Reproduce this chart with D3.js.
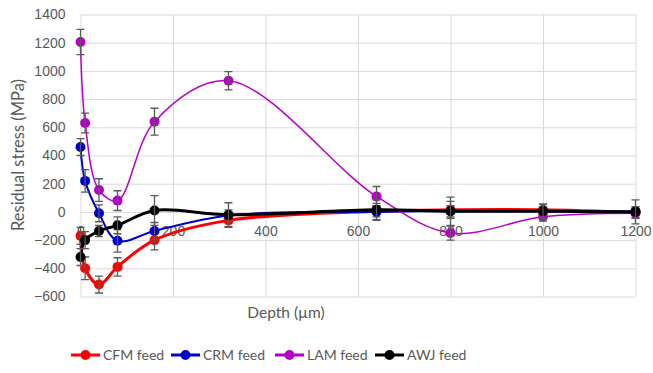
<!DOCTYPE html>
<html lang="en">
<head>
<meta charset="UTF-8">
<title>Residual stress vs depth</title>
<script src="https://d3js.org/d3.v7.min.js"></script>
<style>
    body { margin: 0; background: #fff; }
    svg { font-family: Lato, "Open Sans", sans-serif; }
    .grid line { stroke: #d9d9d9; stroke-width: 1px; }
    .tick text { fill: #595959; font-size: 14px; }
    .err { stroke: #595959; stroke-width: 1.3px; fill: none; }
    path.series { fill: none; }
</style>
</head>
<body>
<svg width="653" height="373"></svg>
<script>
    // data
    let depth = [0, 10, 40, 80, 160, 320, 640, 800, 1000, 1200];
    let cfm = [-170, -400, -515, -390, -200, -60, 5, 15, 15, -5];
    let crm = [460, 220, -10, -205, -135, -25, 0, 5, 5, 5];
    let lam = [1205, 630, 155, 80, 640, 930, 110, -150, -35, -10];
    let awj = [-320, -200, -135, -95, 10, -20, 15, 5, 5, 0];
    let cfmErr = [60, 80, 60, 65, 70, 50, 40, 60, 40, 40];
    let crmErr = [60, 80, 60, 80, 60, 40, 60, 40, 30, 30];
    let lamErr = [90, 70, 80, 70, 95, 65, 70, 50, 30, 30];
    let awjErr = [60, 60, 40, 60, 105, 85, 70, 100, 50, 85];
    let xTicks = [0, 200, 400, 600, 800, 1000, 1200];
    let yTicks = [-600, -400, -200, 0, 200, 400, 600, 800, 1000, 1200, 1400];

    let seriesList = [
        {name: 'CFM feed', values: cfm, err: cfmErr, color: '#ff0000', width: 3},
        {name: 'CRM feed', values: crm, err: crmErr, color: '#0000cc', width: 2},
        {name: 'LAM feed', values: lam, err: lamErr, color: '#b400c8', width: 1.5},
        {name: 'AWJ feed', values: awj, err: awjErr, color: '#000000', width: 3}
    ];

    let svg = d3.select('svg');
    let xScale = d3.scaleLinear().domain([0, 1200]).range([80.5, 635.5]);
    let yScale = d3.scaleLinear().domain([-600, 1400]).range([296.5, 14.5]);
    let fmt = d3.format('d');

    // gridlines
    svg.append('g').attr('class', 'grid')
        .attr('transform', 'translate(0,296.5)')
        .call(d3.axisBottom(xScale).tickValues(xTicks).tickSize(-282).tickFormat(''))
        .call(g => g.select('.domain').remove());
    svg.append('g').attr('class', 'grid')
        .attr('transform', 'translate(80.5,0)')
        .call(d3.axisLeft(yScale).tickValues(yTicks).tickSize(-555).tickFormat(''))
        .call(g => g.select('.domain').remove());

    // y tick labels
    svg.append('g')
        .attr('transform', 'translate(80.5,0)')
        .call(d3.axisLeft(yScale).tickValues(yTicks).tickFormat(fmt).tickSize(0).tickPadding(15))
        .call(g => g.select('.domain').remove());

    // x tick labels sit under the zero line
    svg.append('g')
        .attr('transform', 'translate(0,' + yScale(0) + ')')
        .call(d3.axisBottom(xScale).tickValues(xTicks).tickFormat(fmt).tickSize(0).tickPadding(14))
        .call(g => g.select('.domain').remove());

    let line = d3.line()
        .x((d, i) => xScale(depth[i]))
        .y(d => yScale(d))
        .curve(d3.curveCatmullRom.alpha(0.5));

    seriesList.forEach(function (s) {
        let g = svg.append('g');
        g.append('path').attr('class', 'series')
            .attr('d', line(s.values))
            .attr('stroke', s.color)
            .attr('stroke-width', s.width);
        g.selectAll('circle').data(s.values).join('circle')
            .attr('cx', (d, i) => xScale(depth[i]))
            .attr('cy', d => yScale(d))
            .attr('r', 5)
            .attr('fill', s.color);
        let eb = g.selectAll('g.eb').data(s.values).join('g').attr('class', 'eb');
        eb.append('path').attr('class', 'err')
            .attr('d', function (d, i) {
                let x = xScale(depth[i]);
                let y1 = yScale(d + s.err[i]), y2 = yScale(d - s.err[i]);
                return 'M' + x + ',' + y1 + 'V' + y2 +
                    'M' + (x - 4) + ',' + y1 + 'H' + (x + 4) +
                    'M' + (x - 4) + ',' + y2 + 'H' + (x + 4);
            });
    });

    // axis titles
    svg.append('text')
        .attr('transform', 'translate(24,155) rotate(-90)')
        .attr('text-anchor', 'middle')
        .attr('fill', '#595959')
        .style('font-size', '16.5px')
        .text('Residual stress (MPa)');
    svg.append('text')
        .attr('x', 286).attr('y', 318)
        .attr('text-anchor', 'middle')
        .attr('fill', '#595959')
        .style('font-size', '15.5px')
        .text('Depth (µm)');

    // legend
    let legX = [71, 171, 275, 375];
    let leg = svg.append('g').selectAll('g').data(seriesList).join('g')
        .attr('transform', (d, i) => 'translate(' + legX[i] + ',355)');
    leg.append('line').attr('x1', 0).attr('x2', 29)
        .attr('stroke', d => d.color).attr('stroke-width', 3);
    leg.append('circle').attr('cx', 14.5).attr('r', 5).attr('fill', d => d.color);
    leg.append('text').attr('x', 32).attr('y', 5)
        .attr('fill', '#595959')
        .style('font-size', '14px')
        .text(d => d.name);
</script>
</body>
</html>
